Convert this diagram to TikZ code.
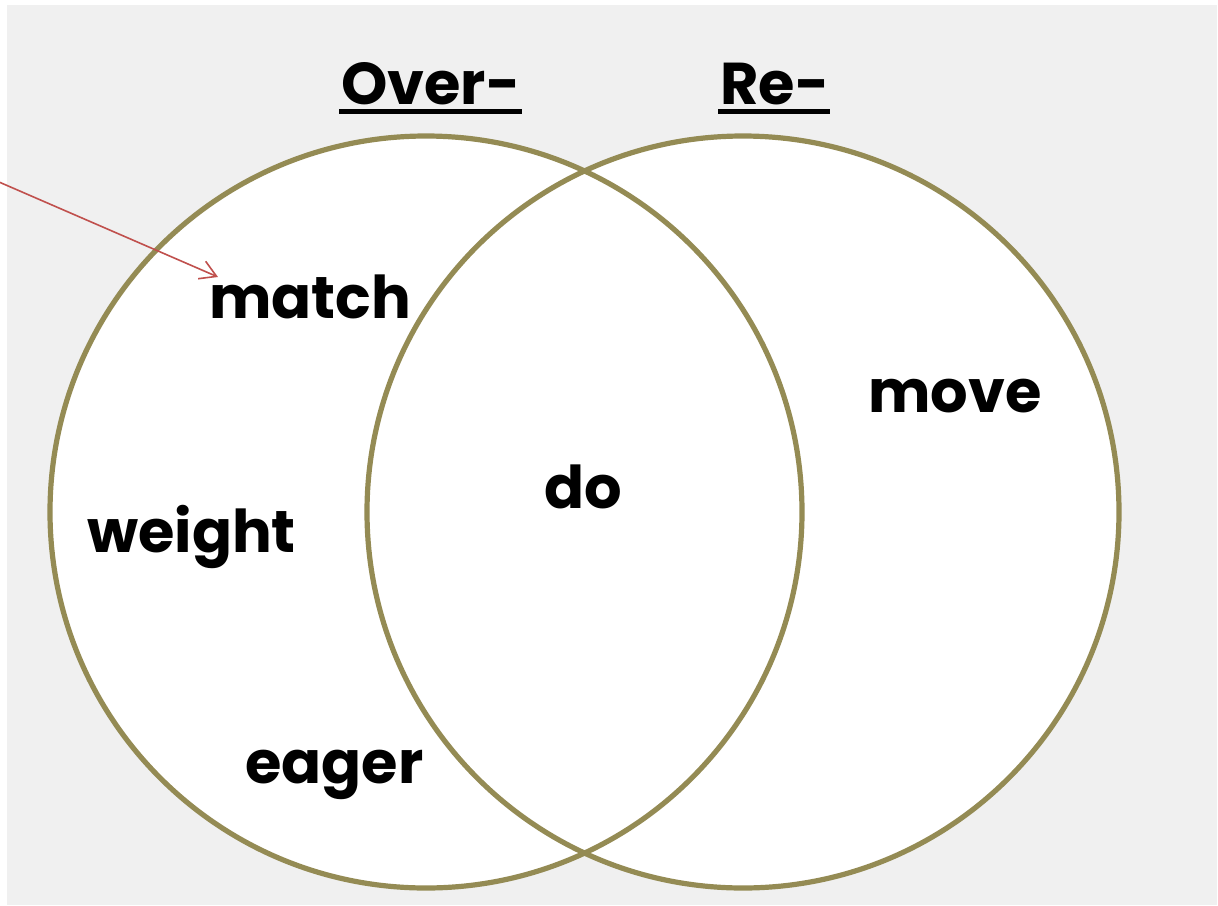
\documentclass[tikz,border=0pt]{standalone}
\usepackage{fontspec}
\setmainfont{Poppins}
\usetikzlibrary{arrows.meta,calc}
\definecolor{bggray}{HTML}{F0F0F0}
\definecolor{olive}{HTML}{948B54}
\definecolor{arrowred}{HTML}{C0504D}
\begin{document}
\begin{tikzpicture}[x=1pt,y=-1pt,
  ring/.style={draw=olive,line width=5.2pt},
  word/.style={inner sep=0pt,anchor=base west,font=\fontsize{59}{70}\selectfont\bfseries},
  title/.style={inner sep=0pt,anchor=base west,font=\fontsize{59}{70}\selectfont\bfseries},
  uline/.style={line width=5pt,black},
  pointer/.style={draw=arrowred,line width=1.6pt,-{Straight Barb[length=16pt,width=19pt,line width=1.6pt]}}]
\useasboundingbox (0,0) rectangle (1218,905);
\fill[white] (0,0) rectangle (1218,905);
\fill[bggray] (7,5) rectangle (1217,905);
% circles
\fill[white] (426,512) circle[radius=376];
\fill[white] (743,512) circle[radius=376];
\draw[ring] (426,512) circle[radius=376];
\draw[ring] (743,512) circle[radius=376];
% titles
\node[title] (over) at (341,104) {Over-};
\node[title] (re) at (720,104) {Re-};
\draw[uline] ($(over.base west)+(-2,7)$) -- ($(over.base east)+(1,7)$);
\draw[uline] ($(re.base west)+(-2,7)$) -- ($(re.base east)+(1,7)$);
% words
\node[word] (match) at (209,318) {match};
\node[word] (move) at (868,412) {move};
\node[word] (do) at (544,508) {do};
\node[word] (weight) at (87,552) {weight};
\node[word] (eager) at (245,783) {eager};
% arrow
\coordinate (src) at (-1,182);
\coordinate (tip) at (218,277);
\draw[pointer] (src) -- (tip);
\end{tikzpicture}
\end{document}
